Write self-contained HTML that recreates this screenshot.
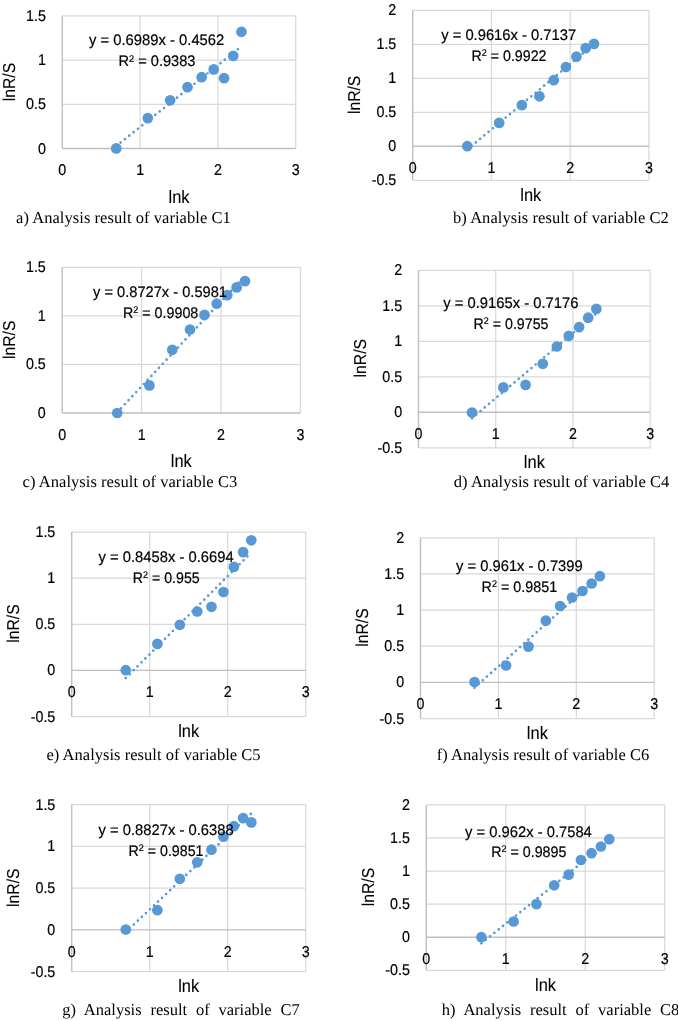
<!DOCTYPE html>
<html><head><meta charset="utf-8"><title>Figure</title>
<style>
html,body{margin:0;padding:0;background:#fff;}
svg{display:block;will-change:transform;}
text{font-family:"Liberation Sans",sans-serif;fill:#000;text-rendering:geometricPrecision;stroke:#000;stroke-width:0.2px;}
.cap{font-family:"Liberation Serif",serif;font-size:16.5px;stroke:none;}
.tk{font-size:15.6px;}
.ti{font-size:18px;stroke-width:0.1px;}
.yt{font-size:17.2px;stroke-width:0.1px;}
.eq{font-size:15.3px;}
</style></head><body>
<svg width="678" height="1021" viewBox="0 0 678 1021">
<rect width="678" height="1021" fill="#fff"/>

<g id="chart-a">
<path d="M62.3 104.27H295.7M62.3 60.03H295.7M62.3 15.8H295.7M140.1 15.8V148.5M217.9 15.8V148.5M295.7 15.8V148.5" stroke="#D9D9D9" stroke-width="1.25" fill="none"/>
<path d="M62.3 148.5H295.7M62.3 15.8V148.5" stroke="#BFBFBF" stroke-width="1.4" fill="none"/>
<text class="tk" transform="translate(45.9 153.5) scale(0.915 1)" text-anchor="end">0</text>
<text class="tk" transform="translate(45.9 109.27) scale(0.915 1)" text-anchor="end">0.5</text>
<text class="tk" transform="translate(45.9 65.03) scale(0.915 1)" text-anchor="end">1</text>
<text class="tk" transform="translate(45.9 20.8) scale(0.915 1)" text-anchor="end">1.5</text>
<text class="tk" transform="translate(62.3 175.3) scale(0.915 1)" text-anchor="middle">0</text>
<text class="tk" transform="translate(140.1 175.3) scale(0.915 1)" text-anchor="middle">1</text>
<text class="tk" transform="translate(217.9 175.3) scale(0.915 1)" text-anchor="middle">2</text>
<text class="tk" transform="translate(295.7 175.3) scale(0.915 1)" text-anchor="middle">3</text>
<text class="ti" x="179" y="202.8" text-anchor="middle" textLength="21" lengthAdjust="spacingAndGlyphs">lnk</text>
<text class="yt" transform="translate(15 82) rotate(-90)" text-anchor="middle" textLength="38.4" lengthAdjust="spacingAndGlyphs">lnR/S</text>
<path d="M116.23 146L241.44 46.49" stroke="#5899D5" stroke-width="2.7" stroke-linecap="round" stroke-dasharray="0 5.55" fill="none"/>
<circle cx="116.23" cy="148.4" r="5.35" fill="#5899D5"/>
<circle cx="147.77" cy="118.1" r="5.35" fill="#5899D5"/>
<circle cx="170.15" cy="100.3" r="5.35" fill="#5899D5"/>
<circle cx="187.51" cy="87.2" r="5.35" fill="#5899D5"/>
<circle cx="201.7" cy="77.2" r="5.35" fill="#5899D5"/>
<circle cx="213.69" cy="69.4" r="5.35" fill="#5899D5"/>
<circle cx="224.08" cy="78.2" r="5.35" fill="#5899D5"/>
<circle cx="233.24" cy="55.9" r="5.35" fill="#5899D5"/>
<circle cx="241.44" cy="31.8" r="5.35" fill="#5899D5"/>
<text class="eq" x="89" y="45.3" textLength="135.3" lengthAdjust="spacingAndGlyphs">y = 0.6989x - 0.4562</text>
<text class="eq" x="118.5" y="66.3" textLength="77" lengthAdjust="spacingAndGlyphs">R<tspan dy="-4.6" font-size="9.6">2</tspan><tspan dy="4.6"> = 0.9383</tspan></text>
<text class="cap" x="16" y="222.5" textLength="214.8" lengthAdjust="spacing">a) Analysis result of variable C1</text>
</g>
<g id="chart-b">
<path d="M412.7 180.3H648.9M412.7 112.3H648.9M412.7 78.3H648.9M412.7 44.3H648.9M412.7 10.3H648.9M491.43 10.3V180.3M570.17 10.3V180.3M648.9 10.3V180.3" stroke="#D9D9D9" stroke-width="1.25" fill="none"/>
<path d="M412.7 146.3H648.9M412.7 10.3V180.3" stroke="#BFBFBF" stroke-width="1.4" fill="none"/>
<text class="tk" transform="translate(396.3 185.3) scale(0.915 1)" text-anchor="end">-0.5</text>
<text class="tk" transform="translate(396.3 151.3) scale(0.915 1)" text-anchor="end">0</text>
<text class="tk" transform="translate(396.3 117.3) scale(0.915 1)" text-anchor="end">0.5</text>
<text class="tk" transform="translate(396.3 83.3) scale(0.915 1)" text-anchor="end">1</text>
<text class="tk" transform="translate(396.3 49.3) scale(0.915 1)" text-anchor="end">1.5</text>
<text class="tk" transform="translate(396.3 15.3) scale(0.915 1)" text-anchor="end">2</text>
<text class="tk" transform="translate(412.7 173.1) scale(0.915 1)" text-anchor="middle">0</text>
<text class="tk" transform="translate(491.43 173.1) scale(0.915 1)" text-anchor="middle">1</text>
<text class="tk" transform="translate(570.17 173.1) scale(0.915 1)" text-anchor="middle">2</text>
<text class="tk" transform="translate(648.9 173.1) scale(0.915 1)" text-anchor="middle">3</text>
<text class="ti" x="530.8" y="200.5" text-anchor="middle" textLength="21" lengthAdjust="spacingAndGlyphs">lnk</text>
<text class="yt" transform="translate(360.4 94.9) rotate(-90)" text-anchor="middle" textLength="38.4" lengthAdjust="spacingAndGlyphs">lnR/S</text>
<path d="M467.27 149.51L593.99 44.27" stroke="#5899D5" stroke-width="2.7" stroke-linecap="round" stroke-dasharray="0 5.55" fill="none"/>
<circle cx="467.27" cy="146.2" r="5.35" fill="#5899D5"/>
<circle cx="499.2" cy="122.9" r="5.35" fill="#5899D5"/>
<circle cx="521.85" cy="105.1" r="5.35" fill="#5899D5"/>
<circle cx="539.42" cy="96.3" r="5.35" fill="#5899D5"/>
<circle cx="553.77" cy="80.2" r="5.35" fill="#5899D5"/>
<circle cx="565.91" cy="67" r="5.35" fill="#5899D5"/>
<circle cx="576.42" cy="56.7" r="5.35" fill="#5899D5"/>
<circle cx="585.69" cy="48.1" r="5.35" fill="#5899D5"/>
<circle cx="593.99" cy="43.9" r="5.35" fill="#5899D5"/>
<text class="eq" x="441.2" y="39.9" textLength="135" lengthAdjust="spacingAndGlyphs">y = 0.9616x - 0.7137</text>
<text class="eq" x="471.5" y="60.9" textLength="75" lengthAdjust="spacingAndGlyphs">R<tspan dy="-4.6" font-size="9.6">2</tspan><tspan dy="4.6"> = 0.9922</tspan></text>
<text class="cap" x="453" y="223.1" textLength="215.8" lengthAdjust="spacing">b) Analysis result of variable C2</text>
</g>
<g id="chart-c">
<path d="M62.2 364.43H300.4M62.2 315.87H300.4M62.2 267.3H300.4M141.6 267.3V413M221 267.3V413M300.4 267.3V413" stroke="#D9D9D9" stroke-width="1.25" fill="none"/>
<path d="M62.2 413H300.4M62.2 267.3V413" stroke="#BFBFBF" stroke-width="1.4" fill="none"/>
<text class="tk" transform="translate(45.8 418) scale(0.915 1)" text-anchor="end">0</text>
<text class="tk" transform="translate(45.8 369.43) scale(0.915 1)" text-anchor="end">0.5</text>
<text class="tk" transform="translate(45.8 320.87) scale(0.915 1)" text-anchor="end">1</text>
<text class="tk" transform="translate(45.8 272.3) scale(0.915 1)" text-anchor="end">1.5</text>
<text class="tk" transform="translate(62.2 439.8) scale(0.915 1)" text-anchor="middle">0</text>
<text class="tk" transform="translate(141.6 439.8) scale(0.915 1)" text-anchor="middle">1</text>
<text class="tk" transform="translate(221 439.8) scale(0.915 1)" text-anchor="middle">2</text>
<text class="tk" transform="translate(300.4 439.8) scale(0.915 1)" text-anchor="middle">3</text>
<text class="ti" x="181.3" y="466.7" text-anchor="middle" textLength="21" lengthAdjust="spacingAndGlyphs">lnk</text>
<text class="yt" transform="translate(15.1 339.85) rotate(-90)" text-anchor="middle" textLength="38.4" lengthAdjust="spacingAndGlyphs">lnR/S</text>
<path d="M117.24 412.34L245.03 275.91" stroke="#5899D5" stroke-width="2.7" stroke-linecap="round" stroke-dasharray="0 5.55" fill="none"/>
<circle cx="117.24" cy="413" r="5.35" fill="#5899D5"/>
<circle cx="149.43" cy="385.4" r="5.35" fill="#5899D5"/>
<circle cx="172.27" cy="349.8" r="5.35" fill="#5899D5"/>
<circle cx="189.99" cy="329.5" r="5.35" fill="#5899D5"/>
<circle cx="204.47" cy="314.9" r="5.35" fill="#5899D5"/>
<circle cx="216.71" cy="303.7" r="5.35" fill="#5899D5"/>
<circle cx="227.31" cy="295.1" r="5.35" fill="#5899D5"/>
<circle cx="236.66" cy="287.4" r="5.35" fill="#5899D5"/>
<circle cx="245.03" cy="281.1" r="5.35" fill="#5899D5"/>
<text class="eq" x="93" y="297.4" textLength="134" lengthAdjust="spacingAndGlyphs">y = 0.8727x - 0.5981</text>
<text class="eq" x="123" y="317.9" textLength="75.3" lengthAdjust="spacingAndGlyphs">R<tspan dy="-4.6" font-size="9.6">2</tspan><tspan dy="4.6"> = 0.9908</tspan></text>
<text class="cap" x="22.6" y="487.3" textLength="214.6" lengthAdjust="spacing">c) Analysis result of variable C3</text>
</g>
<g id="chart-d">
<path d="M418.5 447.8H650.2M418.5 376.8H650.2M418.5 341.3H650.2M418.5 305.8H650.2M418.5 270.3H650.2M495.73 270.3V447.8M572.97 270.3V447.8M650.2 270.3V447.8" stroke="#D9D9D9" stroke-width="1.25" fill="none"/>
<path d="M418.5 412.3H650.2M418.5 270.3V447.8" stroke="#BFBFBF" stroke-width="1.4" fill="none"/>
<text class="tk" transform="translate(402.1 452.8) scale(0.915 1)" text-anchor="end">-0.5</text>
<text class="tk" transform="translate(402.1 417.3) scale(0.915 1)" text-anchor="end">0</text>
<text class="tk" transform="translate(402.1 381.8) scale(0.915 1)" text-anchor="end">0.5</text>
<text class="tk" transform="translate(402.1 346.3) scale(0.915 1)" text-anchor="end">1</text>
<text class="tk" transform="translate(402.1 310.8) scale(0.915 1)" text-anchor="end">1.5</text>
<text class="tk" transform="translate(402.1 275.3) scale(0.915 1)" text-anchor="end">2</text>
<text class="tk" transform="translate(418.5 439.1) scale(0.915 1)" text-anchor="middle">0</text>
<text class="tk" transform="translate(495.73 439.1) scale(0.915 1)" text-anchor="middle">1</text>
<text class="tk" transform="translate(572.97 439.1) scale(0.915 1)" text-anchor="middle">2</text>
<text class="tk" transform="translate(650.2 439.1) scale(0.915 1)" text-anchor="middle">3</text>
<text class="ti" x="534.35" y="467.9" text-anchor="middle" textLength="21" lengthAdjust="spacingAndGlyphs">lnk</text>
<text class="yt" transform="translate(365.9 358.2) rotate(-90)" text-anchor="middle" textLength="38.4" lengthAdjust="spacingAndGlyphs">lnR/S</text>
<path d="M472.03 418.15L596.34 313.42" stroke="#5899D5" stroke-width="2.7" stroke-linecap="round" stroke-dasharray="0 5.55" fill="none"/>
<circle cx="472.03" cy="412.5" r="5.35" fill="#5899D5"/>
<circle cx="503.35" cy="387.4" r="5.35" fill="#5899D5"/>
<circle cx="525.57" cy="384.9" r="5.35" fill="#5899D5"/>
<circle cx="542.8" cy="363.8" r="5.35" fill="#5899D5"/>
<circle cx="556.88" cy="346.5" r="5.35" fill="#5899D5"/>
<circle cx="568.79" cy="335.8" r="5.35" fill="#5899D5"/>
<circle cx="579.1" cy="327.2" r="5.35" fill="#5899D5"/>
<circle cx="588.2" cy="317.7" r="5.35" fill="#5899D5"/>
<circle cx="596.34" cy="308.9" r="5.35" fill="#5899D5"/>
<text class="eq" x="443.3" y="308.4" textLength="135.1" lengthAdjust="spacingAndGlyphs">y = 0.9165x - 0.7176</text>
<text class="eq" x="473.5" y="328.9" textLength="75" lengthAdjust="spacingAndGlyphs">R<tspan dy="-4.6" font-size="9.6">2</tspan><tspan dy="4.6"> = 0.9755</tspan></text>
<text class="cap" x="453.8" y="487.2" textLength="215.5" lengthAdjust="spacing">d) Analysis result of variable C4</text>
</g>
<g id="chart-e">
<path d="M71.7 716.5H305.7M71.7 624.3H305.7M71.7 578.2H305.7M71.7 532.1H305.7M149.7 532.1V716.5M227.7 532.1V716.5M305.7 532.1V716.5" stroke="#D9D9D9" stroke-width="1.25" fill="none"/>
<path d="M71.7 670.4H305.7M71.7 532.1V716.5" stroke="#BFBFBF" stroke-width="1.4" fill="none"/>
<text class="tk" transform="translate(55.3 721.5) scale(0.915 1)" text-anchor="end">-0.5</text>
<text class="tk" transform="translate(55.3 675.4) scale(0.915 1)" text-anchor="end">0</text>
<text class="tk" transform="translate(55.3 629.3) scale(0.915 1)" text-anchor="end">0.5</text>
<text class="tk" transform="translate(55.3 583.2) scale(0.915 1)" text-anchor="end">1</text>
<text class="tk" transform="translate(55.3 537.1) scale(0.915 1)" text-anchor="end">1.5</text>
<text class="tk" transform="translate(71.7 697.2) scale(0.915 1)" text-anchor="middle">0</text>
<text class="tk" transform="translate(149.7 697.2) scale(0.915 1)" text-anchor="middle">1</text>
<text class="tk" transform="translate(227.7 697.2) scale(0.915 1)" text-anchor="middle">2</text>
<text class="tk" transform="translate(305.7 697.2) scale(0.915 1)" text-anchor="middle">3</text>
<text class="ti" x="188.7" y="736.7" text-anchor="middle" textLength="21" lengthAdjust="spacingAndGlyphs">lnk</text>
<text class="yt" transform="translate(19.3 623.6) rotate(-90)" text-anchor="middle" textLength="38.4" lengthAdjust="spacingAndGlyphs">lnR/S</text>
<path d="M125.77 678.07L251.3 552.56" stroke="#5899D5" stroke-width="2.7" stroke-linecap="round" stroke-dasharray="0 5.55" fill="none"/>
<circle cx="125.77" cy="670.2" r="5.35" fill="#5899D5"/>
<circle cx="157.39" cy="643.9" r="5.35" fill="#5899D5"/>
<circle cx="179.83" cy="624.8" r="5.35" fill="#5899D5"/>
<circle cx="197.24" cy="611.5" r="5.35" fill="#5899D5"/>
<circle cx="211.46" cy="606.8" r="5.35" fill="#5899D5"/>
<circle cx="223.48" cy="592" r="5.35" fill="#5899D5"/>
<circle cx="233.9" cy="566.9" r="5.35" fill="#5899D5"/>
<circle cx="243.08" cy="552.1" r="5.35" fill="#5899D5"/>
<circle cx="251.3" cy="540.3" r="5.35" fill="#5899D5"/>
<text class="eq" x="98.6" y="561.9" textLength="135" lengthAdjust="spacingAndGlyphs">y = 0.8458x - 0.6694</text>
<text class="eq" x="132.8" y="582.5" textLength="66.9" lengthAdjust="spacingAndGlyphs">R<tspan dy="-4.6" font-size="9.6">2</tspan><tspan dy="4.6"> = 0.955</tspan></text>
<text class="cap" x="46.4" y="759.6" textLength="214.2" lengthAdjust="spacing">e) Analysis result of variable C5</text>
</g>
<g id="chart-f">
<path d="M420.5 718.5H654.2M420.5 646.22H654.2M420.5 610.08H654.2M420.5 573.94H654.2M420.5 537.8H654.2M498.4 537.8V718.5M576.3 537.8V718.5M654.2 537.8V718.5" stroke="#D9D9D9" stroke-width="1.25" fill="none"/>
<path d="M420.5 682.36H654.2M420.5 537.8V718.5" stroke="#BFBFBF" stroke-width="1.4" fill="none"/>
<text class="tk" transform="translate(404.1 723.5) scale(0.915 1)" text-anchor="end">-0.5</text>
<text class="tk" transform="translate(404.1 687.36) scale(0.915 1)" text-anchor="end">0</text>
<text class="tk" transform="translate(404.1 651.22) scale(0.915 1)" text-anchor="end">0.5</text>
<text class="tk" transform="translate(404.1 615.08) scale(0.915 1)" text-anchor="end">1</text>
<text class="tk" transform="translate(404.1 578.94) scale(0.915 1)" text-anchor="end">1.5</text>
<text class="tk" transform="translate(404.1 542.8) scale(0.915 1)" text-anchor="end">2</text>
<text class="tk" transform="translate(420.5 709.16) scale(0.915 1)" text-anchor="middle">0</text>
<text class="tk" transform="translate(498.4 709.16) scale(0.915 1)" text-anchor="middle">1</text>
<text class="tk" transform="translate(576.3 709.16) scale(0.915 1)" text-anchor="middle">2</text>
<text class="tk" transform="translate(654.2 709.16) scale(0.915 1)" text-anchor="middle">3</text>
<text class="ti" x="537.35" y="738.7" text-anchor="middle" textLength="21" lengthAdjust="spacingAndGlyphs">lnk</text>
<text class="yt" transform="translate(368.1 627.5) rotate(-90)" text-anchor="middle" textLength="38.4" lengthAdjust="spacingAndGlyphs">lnR/S</text>
<path d="M474.5 687.69L599.87 575.9" stroke="#5899D5" stroke-width="2.7" stroke-linecap="round" stroke-dasharray="0 5.55" fill="none"/>
<circle cx="474.5" cy="682" r="5.35" fill="#5899D5"/>
<circle cx="506.08" cy="665.5" r="5.35" fill="#5899D5"/>
<circle cx="528.49" cy="646.6" r="5.35" fill="#5899D5"/>
<circle cx="545.88" cy="620.6" r="5.35" fill="#5899D5"/>
<circle cx="560.08" cy="606" r="5.35" fill="#5899D5"/>
<circle cx="572.09" cy="597.5" r="5.35" fill="#5899D5"/>
<circle cx="582.49" cy="591" r="5.35" fill="#5899D5"/>
<circle cx="591.66" cy="583.5" r="5.35" fill="#5899D5"/>
<circle cx="599.87" cy="576.2" r="5.35" fill="#5899D5"/>
<text class="eq" x="456" y="570.9" textLength="126.7" lengthAdjust="spacingAndGlyphs">y = 0.961x - 0.7399</text>
<text class="eq" x="481.6" y="591.9" textLength="75.6" lengthAdjust="spacingAndGlyphs">R<tspan dy="-4.6" font-size="9.6">2</tspan><tspan dy="4.6"> = 0.9851</tspan></text>
<text class="cap" x="436.8" y="760" textLength="212.4" lengthAdjust="spacing">f) Analysis result of variable C6</text>
</g>
<g id="chart-g">
<path d="M71.7 971.6H305.7M71.7 888.1H305.7M71.7 846.35H305.7M71.7 804.6H305.7M149.7 804.6V971.6M227.7 804.6V971.6M305.7 804.6V971.6" stroke="#D9D9D9" stroke-width="1.25" fill="none"/>
<path d="M71.7 929.85H305.7M71.7 804.6V971.6" stroke="#BFBFBF" stroke-width="1.4" fill="none"/>
<text class="tk" transform="translate(55.3 976.6) scale(0.915 1)" text-anchor="end">-0.5</text>
<text class="tk" transform="translate(55.3 934.85) scale(0.915 1)" text-anchor="end">0</text>
<text class="tk" transform="translate(55.3 893.1) scale(0.915 1)" text-anchor="end">0.5</text>
<text class="tk" transform="translate(55.3 851.35) scale(0.915 1)" text-anchor="end">1</text>
<text class="tk" transform="translate(55.3 809.6) scale(0.915 1)" text-anchor="end">1.5</text>
<text class="tk" transform="translate(71.7 956.65) scale(0.915 1)" text-anchor="middle">0</text>
<text class="tk" transform="translate(149.7 956.65) scale(0.915 1)" text-anchor="middle">1</text>
<text class="tk" transform="translate(227.7 956.65) scale(0.915 1)" text-anchor="middle">2</text>
<text class="tk" transform="translate(305.7 956.65) scale(0.915 1)" text-anchor="middle">3</text>
<text class="ti" x="188.7" y="991.8" text-anchor="middle" textLength="21" lengthAdjust="spacingAndGlyphs">lnk</text>
<text class="yt" transform="translate(19.3 887.7) rotate(-90)" text-anchor="middle" textLength="38.4" lengthAdjust="spacingAndGlyphs">lnR/S</text>
<path d="M125.77 932.1L251.3 813.48" stroke="#5899D5" stroke-width="2.7" stroke-linecap="round" stroke-dasharray="0 5.55" fill="none"/>
<circle cx="125.77" cy="929.5" r="5.35" fill="#5899D5"/>
<circle cx="157.39" cy="910.2" r="5.35" fill="#5899D5"/>
<circle cx="179.83" cy="878.8" r="5.35" fill="#5899D5"/>
<circle cx="197.24" cy="862.3" r="5.35" fill="#5899D5"/>
<circle cx="211.46" cy="849.7" r="5.35" fill="#5899D5"/>
<circle cx="223.48" cy="836.7" r="5.35" fill="#5899D5"/>
<circle cx="233.9" cy="826.2" r="5.35" fill="#5899D5"/>
<circle cx="243.08" cy="818.1" r="5.35" fill="#5899D5"/>
<circle cx="251.3" cy="822.4" r="5.35" fill="#5899D5"/>
<text class="eq" x="98.6" y="834.5" textLength="135" lengthAdjust="spacingAndGlyphs">y = 0.8827x - 0.6388</text>
<text class="eq" x="128.5" y="855.5" textLength="75" lengthAdjust="spacingAndGlyphs">R<tspan dy="-4.6" font-size="9.6">2</tspan><tspan dy="4.6"> = 0.9851</tspan></text>
<text class="cap" x="62.2" y="1015.2" style="word-spacing:4.7px">g) Analysis result of variable C7</text>
</g>
<g id="chart-h">
<path d="M426.3 970.3H664.7M426.3 904.14H664.7M426.3 871.06H664.7M426.3 837.98H664.7M426.3 804.9H664.7M505.77 804.9V970.3M585.23 804.9V970.3M664.7 804.9V970.3" stroke="#D9D9D9" stroke-width="1.25" fill="none"/>
<path d="M426.3 937.22H664.7M426.3 804.9V970.3" stroke="#BFBFBF" stroke-width="1.4" fill="none"/>
<text class="tk" transform="translate(409.9 975.3) scale(0.915 1)" text-anchor="end">-0.5</text>
<text class="tk" transform="translate(409.9 942.22) scale(0.915 1)" text-anchor="end">0</text>
<text class="tk" transform="translate(409.9 909.14) scale(0.915 1)" text-anchor="end">0.5</text>
<text class="tk" transform="translate(409.9 876.06) scale(0.915 1)" text-anchor="end">1</text>
<text class="tk" transform="translate(409.9 842.98) scale(0.915 1)" text-anchor="end">1.5</text>
<text class="tk" transform="translate(409.9 809.9) scale(0.915 1)" text-anchor="end">2</text>
<text class="tk" transform="translate(426.3 964.02) scale(0.915 1)" text-anchor="middle">0</text>
<text class="tk" transform="translate(505.77 964.02) scale(0.915 1)" text-anchor="middle">1</text>
<text class="tk" transform="translate(585.23 964.02) scale(0.915 1)" text-anchor="middle">2</text>
<text class="tk" transform="translate(664.7 964.02) scale(0.915 1)" text-anchor="middle">3</text>
<text class="ti" x="545.5" y="990.8" text-anchor="middle" textLength="21" lengthAdjust="spacingAndGlyphs">lnk</text>
<text class="yt" transform="translate(373.8 887) rotate(-90)" text-anchor="middle" textLength="38.4" lengthAdjust="spacingAndGlyphs">lnR/S</text>
<path d="M481.38 943.28L609.28 840.85" stroke="#5899D5" stroke-width="2.7" stroke-linecap="round" stroke-dasharray="0 5.55" fill="none"/>
<circle cx="481.38" cy="937.2" r="5.35" fill="#5899D5"/>
<circle cx="513.6" cy="921.5" r="5.35" fill="#5899D5"/>
<circle cx="536.46" cy="904.1" r="5.35" fill="#5899D5"/>
<circle cx="554.2" cy="885.3" r="5.35" fill="#5899D5"/>
<circle cx="568.69" cy="874.6" r="5.35" fill="#5899D5"/>
<circle cx="580.93" cy="860" r="5.35" fill="#5899D5"/>
<circle cx="591.55" cy="853.2" r="5.35" fill="#5899D5"/>
<circle cx="600.91" cy="846.5" r="5.35" fill="#5899D5"/>
<circle cx="609.28" cy="839.2" r="5.35" fill="#5899D5"/>
<text class="eq" x="465.1" y="836.5" textLength="126.7" lengthAdjust="spacingAndGlyphs">y = 0.962x - 0.7584</text>
<text class="eq" x="491.2" y="856.8" textLength="75.2" lengthAdjust="spacingAndGlyphs">R<tspan dy="-4.6" font-size="9.6">2</tspan><tspan dy="4.6"> = 0.9895</tspan></text>
<text class="cap" x="441.8" y="1015.2" style="word-spacing:4.7px">h) Analysis result of variable C8</text>
</g>
</svg></body></html>
